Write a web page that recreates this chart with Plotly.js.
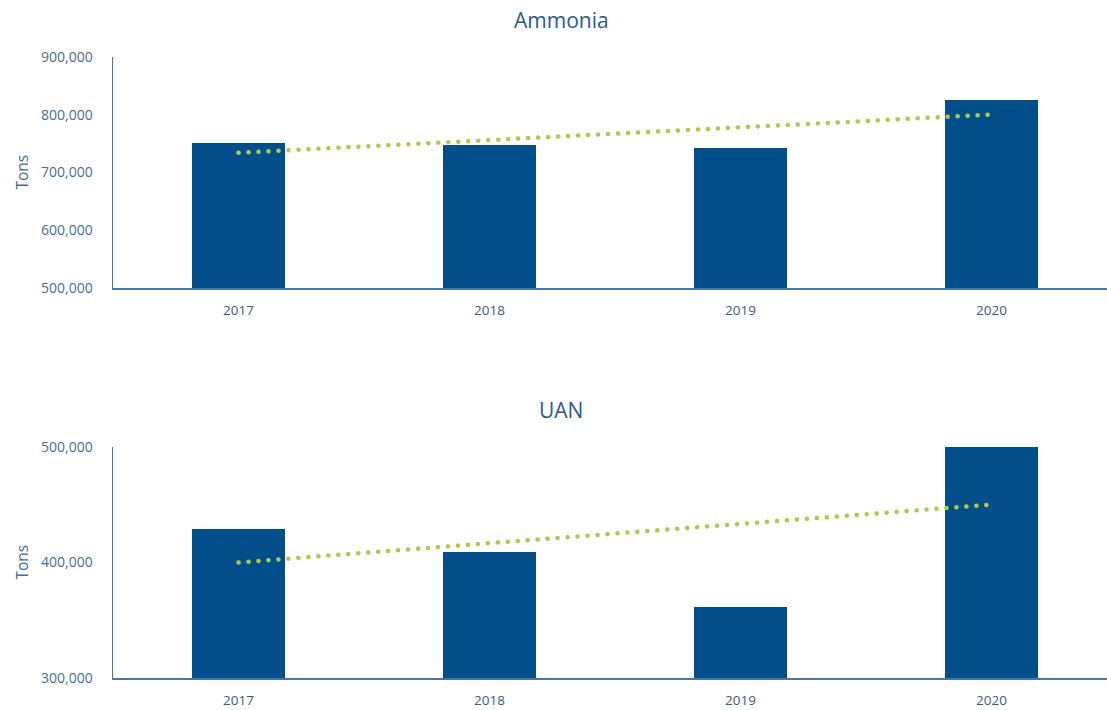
<!DOCTYPE html>
<html>
<head>
<meta charset="utf-8">
<script src="https://cdn.plot.ly/plotly-3.0.1.min.js"></script>
<style>
html,body{margin:0;padding:0;background:#fff;}
#chart{width:1107px;height:710px;}
.scatterlayer path.js-line{stroke-linecap:round;}
</style>
</head>
<body>
<div id="chart"></div>
<script>
const years = [2017, 2018, 2019, 2020];
const yearLabels = ["2017", "2018", "2019", "2020"];
const ammoniaTons = [751000, 748000, 742000, 826000];
const ammoniaTrendYears = [2017, 2020];
const ammoniaTrend = [734000, 800000];
const uanTons = [429000, 409000, 362000, 500000];
const uanTrendYears = [2017, 2020];
const uanTrend = [400000, 450000];
const ammoniaTicks = [500000, 600000, 700000, 800000, 900000];
const uanTicks = [300000, 400000, 500000];

const barColor = "#034f8c";
const trendColor = "#aacb4e";
const yTextColor = "#4a6d96";
const xTextColor = "#3e5b80";
const axisColor = "#4a76a3";
const font = "Open Sans, Noto Sans, sans-serif";

const traces = [
  {type: "bar", x: years, y: ammoniaTons, width: 0.37, marker: {color: barColor}, xaxis: "x", yaxis: "y", hoverinfo: "skip"},
  {type: "scatter", mode: "lines", x: ammoniaTrendYears, y: ammoniaTrend, line: {color: trendColor, width: 4.5, dash: "0.1px,9.9px"}, xaxis: "x", yaxis: "y"},
  {type: "bar", x: years, y: uanTons, width: 0.37, marker: {color: barColor}, xaxis: "x2", yaxis: "y2", hoverinfo: "skip"},
  {type: "scatter", mode: "lines", x: uanTrendYears, y: uanTrend, line: {color: trendColor, width: 4.5, dash: "0.1px,9.9px"}, xaxis: "x2", yaxis: "y2"}
];

function xax(anchor) {
  return {
    anchor: anchor, domain: [0, 1], range: [2016.5, 2020.46],
    tickvals: years, ticktext: yearLabels,
    showgrid: false, zeroline: false, showline: true, linecolor: axisColor, linewidth: 1.5,
    ticks: "", ticklabelstandoff: 9,
    tickfont: {family: font, size: 13.5, color: xTextColor}, fixedrange: true
  };
}
function yax(anchor, domain, range, ticks) {
  return {
    anchor: anchor, domain: domain, range: range,
    tickvals: ticks, tickformat: ",d",
    showgrid: false, zeroline: false, showline: true, linecolor: axisColor, linewidth: 1.5,
    ticks: "", ticklabelstandoff: 16,
    tickfont: {family: font, size: 14, color: yTextColor}, fixedrange: true
  };
}

const layout = {
  width: 1107, height: 710,
  margin: {l: 113, r: 0, t: 0, b: 0},
  paper_bgcolor: "#ffffff", plot_bgcolor: "#ffffff",
  showlegend: false,
  bargap: 0,
  xaxis: xax("y"),
  yaxis: yax("x", [1 - 288.3/710, 1 - 56.7/710], [500000, 900000], ammoniaTicks),
  xaxis2: xax("y2"),
  yaxis2: yax("x2", [1 - 678.3/710, 1 - 446.7/710], [300000, 500000], uanTicks),
  annotations: [
    {text: "Ammonia", xref: "paper", yref: "paper", x: (561-113)/994, y: 1 - 20/710, xanchor: "center", yanchor: "middle", showarrow: false, font: {family: font, size: 21, color: "#2c5a88", weight: 500}},
    {text: "UAN", xref: "paper", yref: "paper", x: (561-113)/994, y: 1 - 410/710, xanchor: "center", yanchor: "middle", showarrow: false, font: {family: font, size: 21, color: "#2c5a88", weight: 500}},
    {text: "Tons", xref: "paper", yref: "paper", x: (21-113)/994, y: 1 - 172.5/710, xanchor: "center", yanchor: "middle", textangle: -90, showarrow: false, font: {family: font, size: 15.5, color: yTextColor}},
    {text: "Tons", xref: "paper", yref: "paper", x: (21-113)/994, y: 1 - 562.5/710, xanchor: "center", yanchor: "middle", textangle: -90, showarrow: false, font: {family: font, size: 15.5, color: yTextColor}}
  ]
};

Plotly.newPlot("chart", traces, layout, {displayModeBar: false, staticPlot: true});
</script>
</body>
</html>
